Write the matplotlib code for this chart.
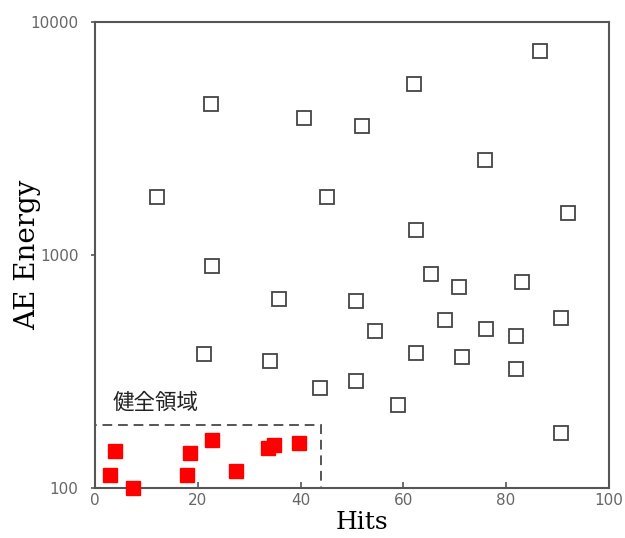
import numpy as np
import matplotlib.pyplot as plt
from matplotlib.patches import Rectangle

# hollow squares: outside the healthy region
hits = [12.1, 22.5, 40.6, 52.0, 62.1, 86.7, 76.0, 45.1, 92.0, 62.5,
        22.7, 35.9, 65.4, 70.9, 83.2, 50.8, 68.2, 54.5, 76.2, 82.0,
        90.8, 21.3, 34.0, 62.5, 71.5, 43.8, 50.8, 82.0, 59.0, 90.8]
energy = [1774, 4446, 3873, 3580, 5420, 7510, 2556, 1774, 1514, 1280,
          897, 647, 829, 729, 766, 635, 526, 472, 481, 449,
          537, 376, 351, 380, 365, 269, 288, 324, 227, 172]

# red squares: healthy region
hits_ok = [3.9, 2.9, 7.4, 18.4, 18.0, 22.7, 27.5, 33.6, 34.8, 39.8]
energy_ok = [144, 114, 100, 141, 114, 161, 118, 148, 153, 156]

box_hits = 44
box_energy = 186

fig = plt.figure(figsize=(6.25, 5.38), dpi=100)
ax = fig.add_axes([0.152, 0.093, 0.822, 0.866])

ax.plot(hits, energy, 's', ms=10, mfc='white', mec='#444444', mew=1.3, ls='none')
ax.plot(hits_ok, energy_ok, 's', ms=10.5, mfc='red', mec='red', ls='none', clip_on=False, zorder=5)

ax.add_patch(Rectangle((0, 100), box_hits, box_energy - 100, fill=False,
                       ls=(0, (5, 3)), ec='#555555', lw=1.4))
ax.text(3.5, 232, '健全領域', fontsize=15.5, va='center', ha='left',
        family=['Noto Sans CJK JP', 'DejaVu Sans'], color='#222222')

ax.set_yscale('log')
ax.set_xlim(0, 100)
ax.set_ylim(100, 10000)
ax.set_xticks([0, 20, 40, 60, 80, 100])
ax.set_yticks([100, 1000, 10000])
ax.set_yticklabels(['100', '1000', '10000'])
ax.minorticks_off()
ax.tick_params(direction='in', length=4, width=1.2, color='#555555',
               labelcolor='#666666', labelsize=11)
ax.tick_params(axis='y', direction='out', length=3, pad=9)
for s in ax.spines.values():
    s.set_color('#555555')
    s.set_linewidth(1.5)

ax.set_xlabel('Hits', family='DejaVu Serif', fontsize=18)
ax.set_ylabel('AE Energy', family='DejaVu Serif', fontsize=20)
ax.xaxis.set_label_coords(0.52, -0.05)
ax.yaxis.set_label_coords(-0.105, 0.5)

plt.savefig('out.png', dpi=100)
